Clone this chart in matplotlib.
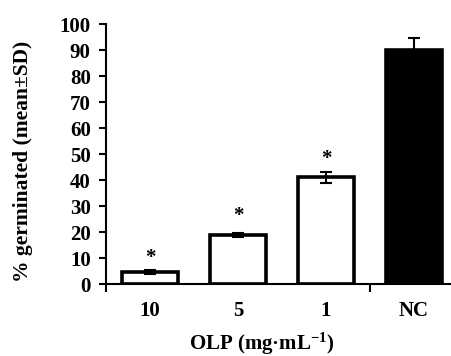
import matplotlib

matplotlib.use("Agg")
import matplotlib.pyplot as plt
from matplotlib.transforms import offset_copy

categories = ["10", "5", "1", "NC"]
means = [4.5, 18.8, 41.0, 90.0]
sds = [0.8, 0.7, 2.0, 4.8]
bar_colors = ["white", "white", "white", "black"]
star_y = [11.2, 27.4, 49.2]

plt.rcParams.update({
    "font.family": ["Liberation Serif", "DejaVu Serif"],
    "font.weight": "bold",
    "mathtext.default": "regular",
})

fig = plt.figure(figsize=(4.51, 3.56), dpi=100)
ax = fig.add_axes([106 / 451, 72 / 356, 352 / 451, 260 / 356])

x = range(len(categories))
ax.bar(x, means, width=0.64, color=bar_colors, edgecolor="black", linewidth=2.6, zorder=2)
ax.errorbar(x, means, yerr=sds, fmt="none", ecolor="black", elinewidth=1.5,
            capsize=4, capthick=1.5, zorder=3)
star_tr = offset_copy(ax.transData, fig=fig, x=0, y=-3, units="dots")
for i, y in enumerate(star_y):
    ax.text(i, y, "*", ha="center", va="center", fontsize=15, fontweight="bold",
            transform=star_tr)

ax.set_xlim(-0.5, 3.5)
ax.set_ylim(0, 100)
ax.set_yticks(range(0, 101, 10))
ax.set_xticks(list(x))
ax.set_xticklabels(categories)
ax.set_xticks([-0.5, 2.5], minor=True)
ax.tick_params(axis="x", which="major", length=0, pad=12, labelsize=15)
ax.tick_params(axis="x", which="minor", length=6, width=1.5, direction="out")
ax.tick_params(axis="y", length=5, width=1.5, direction="out", labelsize=15, pad=6)
for t in ax.get_xticklabels() + ax.get_yticklabels():
    t.set_fontweight("bold")
for s in ("top", "right"):
    ax.spines[s].set_visible(False)
for s in ("left", "bottom"):
    ax.spines[s].set_linewidth(1.5)

fig.text(23 / 451, 1 - 161 / 356, "% germinated (mean±SD)", rotation=90,
         ha="center", va="center", fontsize=15.5, fontweight="bold")
fig.text(262 / 451, 1 - 344 / 356, "OLP (mg·mL$^{-1}$)", ha="center", va="center",
         fontsize=15, fontweight="bold")

fig.savefig("out.png", dpi=100)
